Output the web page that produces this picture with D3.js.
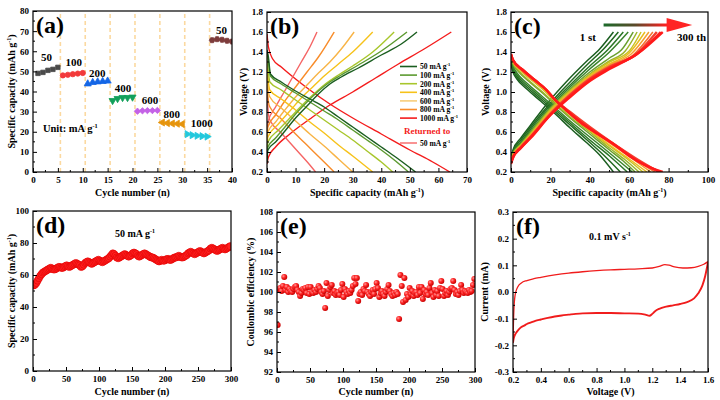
<!DOCTYPE html>
<html><head><meta charset="utf-8">
<script src="https://cdn.jsdelivr.net/npm/d3@7"></script>
<style>body{margin:0;background:#fff}svg{display:block}</style>
</head><body><svg id="c" width="720" height="400"></svg>
<script>
// ---------- Panel (a): rate capability ----------
const aGroups = ["50","100","200","400","600","800","1000","50"];
const aCycles = [[1,2,3,4,5],[6,7,8,9,10],[11,12,13,14,15],[16,17,18,19,20],[21,22,23,24,25],[26,27,28,29,30],[31,32,33,34,35],[36,37,38,39,40]];
const aValues = [[49,49.5,50.5,51,52],[48,48.3,48.6,48.9,49.2],[43.8,44.5,44.8,45,45.2],[35.5,36.5,37,37,37.2],[30.2,30.4,30.5,30.5,30.6],[24.6,24.3,24.1,24.0,23.8],[18.8,18.3,18.0,17.8,17.6],[65.5,66,65.7,65.2,64.8]];
const aDividers = [5.5,10.5,15.5,20.5,25.5,30.5,35.5];
const aXTicks = [0,5,10,15,20,25,30,35,40];
const aYTicks = [0,10,20,30,40,50,60,70,80];

// ---------- Panel (b): charge/discharge at rates ----------
const bNames = ["50","100","200","400","600","800","1000","Returned 50"];
const bCharge = [
 [[0,0.3],[0.3,0.42],[3,0.5],[6,0.6],[10,0.74],[14,0.86],[18,0.98],[22,1.08],[26,1.15],[32,1.24],[40,1.37],[47,1.48],[52.5,1.6]],
 [[0,0.33],[0.3,0.45],[3,0.54],[6,0.64],[10,0.78],[14,0.9],[18,1.01],[22,1.1],[26,1.17],[32,1.27],[40,1.41],[49,1.6]],
 [[0,0.38],[0.3,0.5],[4,0.62],[8,0.74],[12,0.86],[16,0.97],[20,1.07],[25,1.17],[30,1.26],[37,1.4],[44.5,1.6]],
 [[0,0.42],[0.3,0.55],[4,0.68],[8,0.81],[12,0.94],[16,1.05],[20,1.16],[25,1.28],[30,1.4],[37,1.6]],
 [[0,0.48],[0.3,0.6],[3,0.7],[6,0.81],[10,0.95],[14,1.07],[18,1.19],[22,1.3],[26,1.43],[30.5,1.6]],
 [[0,0.52],[0.3,0.65],[3,0.77],[6,0.9],[10,1.05],[14,1.2],[18,1.35],[23.5,1.6]],
 [[0,0.58],[0.3,0.7],[3,0.85],[6,1.0],[9,1.15],[12,1.3],[15,1.45],[17.5,1.6]],
 [[0,0.28],[0.5,0.35],[3,0.45],[8,0.58],[15,0.73],[22,0.87],[30,1.0],[38,1.14],[46,1.28],[55,1.43],[64.5,1.6]]
];
const bDischarge = [
 [[0,1.42],[0.5,1.35],[1.2,1.18],[5,1.1],[10,1.01],[15,0.93],[20,0.85],[25,0.75],[30,0.65],[35,0.55],[40,0.45],[45,0.35],[52,0.2]],
 [[0,1.4],[0.5,1.3],[1.2,1.16],[5,1.08],[10,0.99],[15,0.9],[20,0.81],[25,0.72],[30,0.62],[35,0.52],[40,0.42],[45,0.31],[49.5,0.2]],
 [[0,1.35],[0.5,1.2],[1,1.1],[5,1.02],[10,0.92],[15,0.82],[20,0.72],[25,0.62],[30,0.52],[35,0.41],[40,0.3],[44,0.2]],
 [[0,1.3],[0.5,1.1],[1,1.02],[5,0.93],[10,0.82],[15,0.7],[20,0.59],[25,0.47],[30,0.36],[37,0.2]],
 [[0,1.2],[0.5,1.0],[1,0.95],[5,0.84],[10,0.71],[15,0.58],[20,0.46],[25,0.33],[30,0.2]],
 [[0,1.1],[0.5,0.9],[1,0.85],[5,0.73],[10,0.58],[15,0.44],[20,0.3],[23.5,0.2]],
 [[0,1.0],[0.5,0.78],[1,0.72],[5,0.59],[10,0.43],[15,0.27],[17,0.2]],
 [[0,1.58],[0.5,1.45],[2,1.33],[5,1.25],[10,1.13],[15,1.02],[22,0.88],[30,0.74],[40,0.58],[50,0.42],[58,0.3],[64,0.2]]
];
const bCurveColors = ["#1b5e20","#5c9a30","#a8c62c","#f6c21a","#f8b446","#f88c2a","#f56464","#f41c1c"];
const bLegendLabels = ["50 mA g","100 mA g","200 mA g","400 mA g","600 mA g","800 mA g","1000 mA g"];
const bLegendColors = ["#1b5e20","#5c9a30","#a8c62c","#f6c21a","#f8cd7a","#f88c2a","#f41c1c"];
const bXTicks = [0,10,20,30,40,50,60,70];
const vTicks = [0.2,0.4,0.6,0.8,1.0,1.2,1.4,1.6,1.8];

// ---------- Panel (c): cycling charge/discharge ----------
const cCharge = [
 [[0,0.33],[1,0.42],[5,0.54],[10,0.67],[19,0.9],[28,1.1],[38,1.3],[45,1.43],[52,1.6]],
 [[0,0.34],[1,0.41],[5,0.52],[10,0.65],[20,0.89],[29,1.08],[39,1.28],[47,1.43],[54.5,1.6]],
 [[0,0.33],[1,0.4],[5,0.5],[10,0.63],[20,0.87],[30,1.07],[40,1.26],[49,1.42],[57,1.6]],
 [[0,0.32],[1,0.39],[5,0.49],[10,0.61],[20,0.85],[30,1.05],[40,1.23],[50,1.4],[59.5,1.6]],
 [[0,0.32],[1,0.38],[5,0.48],[10,0.6],[20,0.84],[30,1.03],[40,1.2],[50,1.34],[56,1.42],[62,1.6]],
 [[0,0.31],[1,0.38],[5,0.47],[10,0.59],[20,0.83],[30,1.02],[40,1.18],[50,1.31],[58,1.41],[64,1.6]],
 [[0,0.31],[1,0.37],[5,0.47],[10,0.58],[20,0.82],[30,1.01],[40,1.17],[50,1.3],[60,1.41],[66,1.6]],
 [[0,0.3],[1,0.37],[5,0.46],[10,0.57],[20,0.81],[30,1.0],[40,1.16],[50,1.28],[60,1.39],[68,1.6]],
 [[0,0.3],[1,0.36],[5,0.46],[10,0.57],[20,0.8],[30,0.99],[40,1.15],[50,1.27],[61,1.38],[70,1.6]],
 [[0,0.3],[1,0.36],[5,0.45],[10,0.56],[20,0.79],[30,0.98],[40,1.14],[50,1.26],[62,1.37],[72,1.6]],
 [[0,0.29],[1,0.35],[5,0.45],[10,0.55],[20,0.78],[30,0.97],[40,1.13],[50,1.25],[63,1.37],[74,1.6]],
 [[0,0.29],[1,0.35],[5,0.44],[10,0.55],[20,0.77],[30,0.96],[40,1.12],[50,1.24],[64,1.38],[76,1.6]],
 [[0,0.28],[1,0.34],[5,0.44],[10,0.54],[20,0.77],[30,0.95],[40,1.11],[50,1.23],[64,1.38],[77,1.6]]
];
const cDischarge = [
 [[0,1.28],[1,1.2],[3,1.13],[8,1.03],[15,0.91],[22,0.79],[30,0.64],[38,0.5],[45,0.37],[52,0.2]],
 [[0,1.3],[1,1.22],[3,1.15],[8,1.05],[15,0.93],[22,0.81],[30,0.67],[38,0.53],[47,0.37],[55.5,0.2]],
 [[0,1.32],[1,1.24],[3,1.17],[8,1.07],[15,0.95],[22,0.83],[30,0.69],[40,0.52],[50,0.36],[59,0.2]],
 [[0,1.33],[1,1.26],[3,1.19],[8,1.09],[15,0.97],[22,0.85],[30,0.71],[40,0.55],[50,0.39],[61.5,0.2]],
 [[0,1.34],[1,1.28],[4,1.2],[10,1.09],[16,0.99],[22,0.88],[30,0.74],[40,0.58],[50,0.42],[57,0.31],[63,0.2]],
 [[0,1.35],[1,1.29],[4,1.21],[10,1.1],[16,1.0],[22,0.89],[30,0.75],[40,0.6],[50,0.44],[58,0.32],[65,0.2]],
 [[0,1.35],[1,1.3],[5,1.21],[11,1.11],[17,1.01],[22,0.91],[30,0.77],[40,0.61],[50,0.46],[59,0.33],[67,0.2]],
 [[0,1.36],[1,1.3],[5,1.22],[11,1.12],[17,1.02],[22,0.92],[30,0.78],[40,0.62],[50,0.47],[60,0.33],[69,0.2]],
 [[0,1.36],[1,1.31],[5,1.22],[11,1.12],[17,1.03],[22,0.92],[30,0.79],[40,0.63],[50,0.49],[61,0.34],[71,0.2]],
 [[0,1.37],[1,1.31],[6,1.22],[12,1.12],[18,1.02],[22,0.93],[30,0.8],[40,0.64],[50,0.5],[62,0.34],[73,0.2]],
 [[0,1.37],[1,1.32],[6,1.22],[12,1.12],[18,1.02],[22,0.93],[30,0.8],[40,0.65],[50,0.51],[63,0.34],[75,0.2]],
 [[0,1.38],[1,1.32],[6,1.22],[12,1.12],[18,1.02],[22,0.93],[28,0.82],[36,0.69],[45,0.57],[55,0.44],[65,0.3],[76,0.2]],
 [[0,1.38],[1,1.32],[6,1.22],[12,1.12],[18,1.02],[22,0.93],[28,0.82],[35,0.7],[44,0.58],[52,0.48],[60,0.36],[68,0.27],[77,0.2]]
];
const cColors = ["#1b5e20","#22691f","#2b7526","#3a842c","#6a9f2e","#9bb52a","#c8c224","#e9bd1f","#f5a030","#f57030","#f24030","#ff2424","#ff1a1a"];
const cXTicks = [0,20,40,60,80,100];

// ---------- Panel (d): long cycling capacity (every 2nd cycle) ----------
const dCycles = d3.range(1,300,2);
const dValues = [
 53.5,54,55,56.5,58,59.5,60.5,61.5,62,62.5,
 63,63.5,64,64.5,64,63.5,63.5,64,64.5,65,
 65,64.5,64.5,65,65.5,66,65.5,65,65.5,66,
 66.5,67,67.5,67,66.5,66,65,65.5,66.5,67.5,
 68,68.5,68,67.5,67,67.5,68,68.5,69,69.5,
 69,68.5,68,68.5,69,69.5,70,70.5,71.5,72.5,
 73.5,73,72,71,70.5,71,71.5,72,72.5,73,
 72.5,72,71.5,72,72.5,73.5,74,73.5,73,72,
 71.5,72,72.5,73,73.5,73,72.5,72,71.5,71,
 71,70.5,70,69.5,69,68.5,69,69.5,69,69,
 69.5,70,70,69.5,69.5,70,70.5,71,71,71.5,
 72,71.5,71,71,71.5,72,72.5,73.5,74,74.5,
 74,73.5,73,73.5,74,74.5,75,74.5,74,73.5,
 74,74.5,75,75.5,76.5,77,76.5,76,75.5,75,
 75.5,76,76.5,77,76.5,76,76.5,77,77.5,78];
const dXTicks = [0,50,100,150,200,250,300];
const dYTicks = [0,20,40,60,80,100];

// ---------- Panel (e): coulombic efficiency ----------
const eCycles = d3.range(1,300,2);
const eValues = [
 96.7,100.3,100.4,100.1,100.6,101.5,100.2,100.5,100.0,100.3,
 100.1,100.0,100.3,100.5,100.6,100.2,100.0,99.6,99.9,100.3,
 100.2,100.4,99.9,100.5,99.8,100.5,100.0,99.9,100.2,100.0,
 100.3,100.6,100.4,100.0,99.8,100.1,98.4,100.9,99.6,100.2,
 100.5,100.7,99.9,100.1,99.7,99.9,100.0,99.7,100.2,100.8,
 99.5,100.3,100.0,99.8,100.1,99.9,100.2,100.6,101.4,100.8,
 101.4,99.1,99.8,100.0,99.7,100.3,100.1,100.7,100.0,99.8,
 99.6,100.0,100.2,99.8,100.3,100.9,100.4,99.5,99.9,100.1,
 99.8,99.6,100.0,100.3,100.7,100.1,99.8,99.6,99.9,99.7,
 100.0,99.8,97.3,101.7,100.6,99.0,101.4,99.2,99.8,99.5,
 100.4,99.8,100.1,99.6,99.9,100.0,99.7,100.5,99.9,100.5,
 99.3,100.2,99.8,100.0,99.7,100.4,100.9,99.9,99.5,100.2,
 99.7,100.1,99.6,100.4,101.1,100.3,99.6,99.9,100.1,99.7,
 100.0,100.3,100.4,101.1,100.2,99.8,100.0,99.7,100.1,100.7,
 100.2,99.9,100.1,100.0,99.9,100.2,100.0,100.1,100.7,101.3];
const eYTicks = [92,94,96,98,100,102,104,106,108];

// ---------- Panel (f): cyclic voltammetry ----------
const fAnodic = [[0.2,-0.19],[0.203,-0.12],[0.207,-0.06],[0.213,-0.02],[0.22,0.0],[0.235,0.02],[0.26,0.034],[0.3,0.043],[0.35,0.05],[0.4,0.055],[0.5,0.064],[0.6,0.071],[0.7,0.076],[0.8,0.08],[0.9,0.083],[1.0,0.085],[1.1,0.087],[1.2,0.09],[1.25,0.096],[1.29,0.103],[1.32,0.101],[1.36,0.094],[1.42,0.09],[1.48,0.091],[1.53,0.096],[1.57,0.104],[1.6,0.114]];
const fCathodic = [[0.2,-0.19],[0.205,-0.175],[0.21,-0.166],[0.22,-0.155],[0.24,-0.141],[0.26,-0.131],[0.28,-0.126],[0.3,-0.12],[0.33,-0.114],[0.36,-0.108],[0.4,-0.103],[0.45,-0.097],[0.5,-0.092],[0.55,-0.088],[0.6,-0.085],[0.65,-0.082],[0.7,-0.08],[0.8,-0.079],[0.9,-0.079],[1.0,-0.08],[1.1,-0.081],[1.15,-0.085],[1.18,-0.089],[1.2,-0.082],[1.22,-0.072],[1.25,-0.063],[1.3,-0.055],[1.35,-0.05],[1.4,-0.045],[1.45,-0.038],[1.5,-0.024],[1.53,-0.005],[1.56,0.025],[1.58,0.06],[1.6,0.112]];
const fXTicks = [0.2,0.4,0.6,0.8,1.0,1.2,1.4,1.6];
const fYTicks = [-0.3,-0.2,-0.1,0.0,0.1,0.2,0.3];

// ================= drawing =================
const F = '"Liberation Serif","Times New Roman",serif';
const svg = d3.select('#c');
const defs = svg.append('defs');

function rich(sel, parts, size){
  let raised=false;
  parts.forEach(p=>{
    const t=sel.append('tspan').text(p[0]);
    if(p[1]){ t.attr('font-size',size*0.6).attr('dy',-size*0.38); raised=true; }
    else if(raised){ t.attr('dy',size*0.38); raised=false; }
  });
  return sel;
}
function txt(x,y,size,anchor,fill){
  return svg.append('text').attr('x',x).attr('y',y).attr('font-family',F).attr('font-weight','bold')
    .attr('font-size',size).attr('text-anchor',anchor||'start').attr('fill',fill||'#000');
}

function panel(o){
  const b=o.box;
  const x=d3.scaleLinear().domain(o.xd).range([b.l,b.r]);
  const y=d3.scaleLinear().domain(o.yd).range([b.b,b.t]);
  const cid='clip'+o.name;
  defs.append('clipPath').attr('id',cid).append('rect').attr('x',b.l).attr('y',b.t).attr('width',b.r-b.l).attr('height',b.b-b.t);
  const plot=svg.append('g').attr('clip-path',`url(#${cid})`);
  const axes=svg.append('g');
  const style=s=>{s.select('.domain').remove();s.selectAll('text').attr('font-size',9).attr('font-family',F).attr('font-weight','bold').attr('fill','#000');s.selectAll('line').attr('stroke','#000');};
  axes.append('g').attr('transform',`translate(0,${b.b})`)
    .call(d3.axisBottom(x).tickValues(o.xt).tickFormat(o.xf).tickSizeInner(-4).tickSizeOuter(0).tickPadding(5)).call(style);
  axes.append('g').attr('transform',`translate(${b.l},0)`)
    .call(d3.axisLeft(y).tickValues(o.yt).tickFormat(o.yf).tickSizeInner(-4).tickSizeOuter(0).tickPadding(4)).call(style);
  const xm=o.xt.slice(0,-1).map((v,i)=>(v+o.xt[i+1])/2);
  const ym=o.yt.slice(0,-1).map((v,i)=>(v+o.yt[i+1])/2);
  axes.selectAll(null).data(xm).enter().append('line').attr('x1',d=>x(d)).attr('x2',d=>x(d)).attr('y1',b.b).attr('y2',b.b-2).attr('stroke','#000');
  axes.selectAll(null).data(ym).enter().append('line').attr('y1',d=>y(d)).attr('y2',d=>y(d)).attr('x1',b.l).attr('x2',b.l+2).attr('stroke','#000');
  svg.append('rect').attr('x',b.l).attr('y',b.t).attr('width',b.r-b.l).attr('height',b.b-b.t).attr('fill','none').attr('stroke','#000').attr('stroke-width',1.2);
  rich(txt((b.l+b.r)/2,o.xtY,10,'middle'),o.xtitle,10);
  const yt=svg.append('text').attr('transform',`translate(${o.ytX},${(b.t+b.b)/2}) rotate(-90)`)
    .attr('font-family',F).attr('font-weight','bold').attr('font-size',10).attr('text-anchor','middle');
  rich(yt,o.ytitle,10);
  const lab=txt(b.l+3,b.t+22,24,'start').text(o.label);
  return {x,y,plot,lab};
}
const capT=[["Specific capacity (mAh g",0],["-1",1],[")",0]];
const cycT=[["Cycle number (n)",0]];
const vT=[["Voltage (V)",0]];
const f1=d=>d.toFixed(1), f0=d=>String(d);

// ----- (a)
const A=panel({name:'a',box:{l:33,r:232,t:11,b:172},xd:[0,40],yd:[0,80],xt:aXTicks,yt:aYTicks,xf:f0,yf:f0,
  xtitle:cycT,ytitle:capT,xtY:196,ytX:15,label:'(a)'});
A.plot.selectAll('line.div').data(aDividers).enter().append('line').attr('x1',d=>A.x(d)).attr('x2',d=>A.x(d))
  .attr('y1',A.y(0)).attr('y2',A.y(80)).attr('stroke','#fbd9a0').attr('stroke-width',1.6).attr('stroke-dasharray','4,3');
const hex={draw(ctx,size){const r=Math.sqrt(size/2.6);for(let i=0;i<6;i++){const a=Math.PI/3*i;const px=r*Math.cos(a),py=r*Math.sin(a);i?ctx.lineTo(px,py):ctx.moveTo(px,py);}ctx.closePath();}};
const aSym=[[d3.symbolSquare,0],[d3.symbolCircle,0],[d3.symbolTriangle,0],[d3.symbolTriangle,180],[d3.symbolSquare,45],[d3.symbolTriangle,-90],[d3.symbolTriangle,90],[hex,0]];
const aCol=["#4a4a4a","#f23a3a","#1466e6","#12a05a","#c462e6","#e6940c","#22c8dc","#7e3c3c"];
aValues.forEach((vals,gi)=>{
  A.plot.selectAll(null).data(vals.map((v,i)=>[aCycles[gi][i],v])).enter().append('path')
    .attr('d',d3.symbol().type(aSym[gi][0]).size(aSym[gi][0]===d3.symbolSquare?20:22))
    .attr('transform',d=>`translate(${A.x(d[0])},${A.y(d[1])}) rotate(${aSym[gi][1]})`)
    .attr('fill',aCol[gi]).attr('stroke',aCol[gi]).attr('stroke-width',0.8);
});
const aLab=[["50",2.7,57.1],["100",8.2,54.7],["200",12.9,49.3],["400",18.1,41.9],["600",23.5,35.8],["800",27.9,28.7],["1000",33.9,24.5],["50",37.9,70.6]];
aLab.forEach(l=>txt(A.x(l[1]),A.y(l[2]),11,'middle').attr('dy','0.35em').text(l[0]));
rich(txt(A.x(7.5),A.y(21.7),10.5,'middle').attr('dy','0.35em'),[["Unit: mA g",0],["-1",1]],10.5);

// ----- (b)
const B=panel({name:'b',box:{l:267,r:467,t:12,b:172},xd:[0,70],yd:[0.2,1.8],xt:bXTicks,yt:vTicks,xf:f0,yf:f1,
  xtitle:capT,ytitle:vT,xtY:196,ytX:247,label:'(b)'});
const lineB=d3.line().x(d=>B.x(d[0])).y(d=>B.y(d[1])).curve(d3.curveMonotoneX);
[...bCharge.keys()].reverse().forEach(i=>{
  B.plot.append('path').attr('d',lineB(bCharge[i])).attr('fill','none').attr('stroke',bCurveColors[i]).attr('stroke-width',1.4);
  B.plot.append('path').attr('d',lineB(bDischarge[i])).attr('fill','none').attr('stroke',bCurveColors[i]).attr('stroke-width',1.4);
});
bLegendLabels.forEach((t,i)=>{
  const yy=66.5+i*8.6;
  svg.append('line').attr('x1',400).attr('x2',417).attr('y1',yy).attr('y2',yy).attr('stroke',bLegendColors[i]).attr('stroke-width',1.6);
  rich(txt(420,yy+2.8,7.6,'start'),[[t,0],["-1",1]],7.6);
});
txt(404,134,9,'start','#f41c1c').text('Returned to');
svg.append('line').attr('x1',400).attr('x2',417).attr('y1',143).attr('y2',143).attr('stroke','#f87878').attr('stroke-width',1.6);
rich(txt(420,146,7.6,'start'),[["50 mA g",0],["-1",1]],7.6);

// ----- (c)
const C=panel({name:'c',box:{l:511,r:708,t:12,b:172},xd:[0,100],yd:[0.2,1.8],xt:cXTicks,yt:vTicks,xf:f0,yf:f1,
  xtitle:capT,ytitle:vT,xtY:196,ytX:489,label:'(c)'});
const lineC=d3.line().x(d=>C.x(d[0])).y(d=>C.y(d[1])).curve(d3.curveMonotoneX);
cCharge.forEach((cc,i)=>{
  const w=i>=10?2.4:1.5;
  C.plot.append('path').attr('d',lineC(cc)).attr('fill','none').attr('stroke',cColors[i]).attr('stroke-width',w);
  C.plot.append('path').attr('d',lineC(cDischarge[i])).attr('fill','none').attr('stroke',cColors[i]).attr('stroke-width',w);
});
const grad=defs.append('linearGradient').attr('id','arrowGrad').attr('gradientUnits','userSpaceOnUse')
  .attr('x1',C.x(47)).attr('x2',C.x(79)).attr('y1',0).attr('y2',0);
grad.append('stop').attr('offset','0%').attr('stop-color','#1b6a2a');
grad.append('stop').attr('offset','50%').attr('stop-color','#5a4a2a');
grad.append('stop').attr('offset','100%').attr('stop-color','#ff2020');
svg.append('line').attr('x1',C.x(47)).attr('x2',C.x(80)).attr('y1',C.y(1.67)).attr('y2',C.y(1.67)).attr('stroke','url(#arrowGrad)').attr('stroke-width',3);
svg.append('path').attr('d',`M${C.x(79)},${C.y(1.74)}L${C.x(92)},${C.y(1.67)}L${C.x(79)},${C.y(1.6)}Z`).attr('fill','#ff2424');
txt(C.x(39),C.y(1.55),11,'middle').attr('dy','0.35em').text('1 st');
txt(C.x(99),C.y(1.55),11,'end').attr('dy','0.35em').text('300 th');

// ----- (d)
const D=panel({name:'d',box:{l:33,r:231,t:211,b:371},xd:[0,300],yd:[0,100],xt:dXTicks,yt:dYTicks,xf:f0,yf:f0,
  xtitle:cycT,ytitle:capT,xtY:395,ytX:15,label:'(d)'});
D.plot.selectAll(null).data(dValues.map((v,i)=>[dCycles[i],v])).enter().append('circle')
  .attr('cx',d=>D.x(d[0])).attr('cy',d=>D.y(d[1])).attr('r',3.6).attr('fill','#ff2222').attr('stroke','#e00000').attr('stroke-width',0.6);
rich(txt(135,237,10,'middle'),[["50 mA g",0],["-1",1]],10);

// ----- (e)
const E=panel({name:'e',box:{l:277,r:475,t:212,b:372},xd:[0,300],yd:[92,108],xt:dXTicks,yt:eYTicks,xf:f0,yf:f0,
  xtitle:cycT,ytitle:[["Coulombic efficiency (%)",0]],xtY:395,ytX:254,label:'(e)'});
const rg=defs.append('radialGradient').attr('id','ball').attr('cx','35%').attr('cy','35%').attr('r','65%');
rg.append('stop').attr('offset','0%').attr('stop-color','#ff9a9a');
rg.append('stop').attr('offset','45%').attr('stop-color','#ff2a2a');
rg.append('stop').attr('offset','100%').attr('stop-color','#c80000');
E.plot.selectAll(null).data(eValues.map((v,i)=>[eCycles[i],v])).enter().append('circle')
  .attr('cx',d=>E.x(d[0])).attr('cy',d=>E.y(d[1])).attr('r',3).attr('fill','url(#ball)');

// ----- (f)
const Fp=panel({name:'f',box:{l:513,r:708,t:212,b:372},xd:[0.2,1.6],yd:[-0.3,0.3],xt:fXTicks,yt:fYTicks,xf:f1,
  yf:d=>(Math.abs(d)<1e-9?0:d).toFixed(1),xtitle:vT,ytitle:[["Current (mA)",0]],xtY:395,ytX:488,label:'(f)'});
const lineF=d3.line().x(d=>Fp.x(d[0])).y(d=>Fp.y(d[1])).curve(d3.curveMonotoneX);
Fp.plot.append('path').attr('d',lineF(fAnodic)).attr('fill','none').attr('stroke','#f01c1c').attr('stroke-width',1.3);
Fp.plot.append('path').attr('d',lineF(fCathodic)).attr('fill','none').attr('stroke','#f01c1c').attr('stroke-width',1.9);
rich(txt(610,240,10,'middle'),[["0.1 mV s",0],["-1",1]],10);
</script></body></html>
